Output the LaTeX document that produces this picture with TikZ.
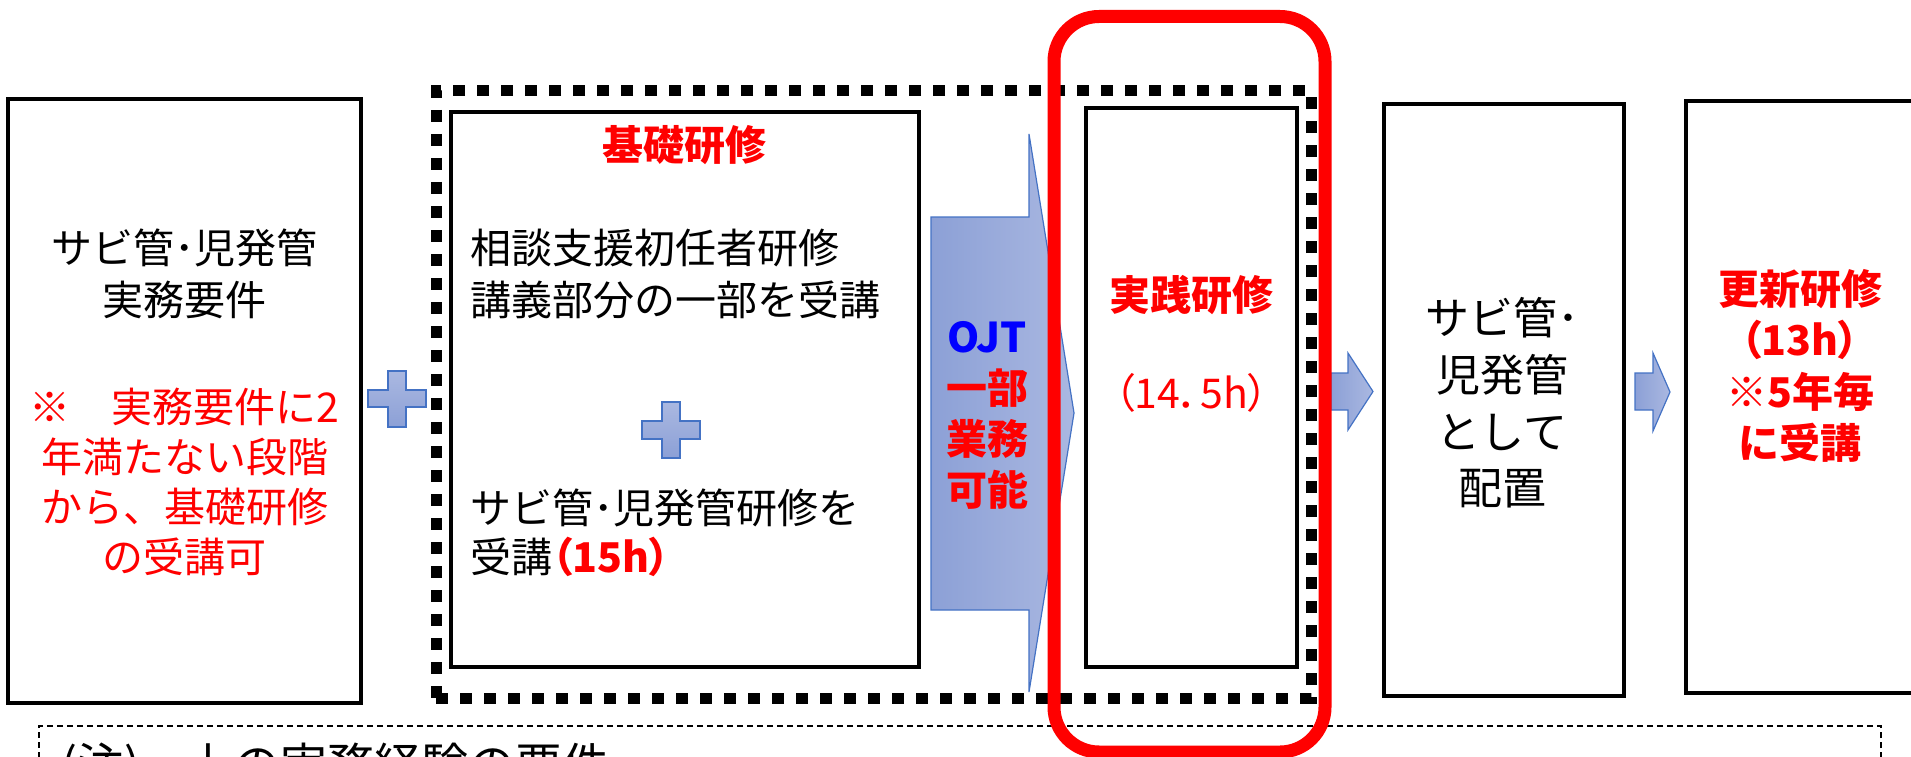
\documentclass[tikz,border=0pt]{standalone}
\usepackage{fontspec}
\setmainfont{Noto Sans CJK JP}
\newfontfamily\pfont[RawFeature=+palt]{Noto Sans CJK JP}
\definecolor{jred}{RGB}{255,0,0}
\definecolor{jblue}{RGB}{0,0,255}
\definecolor{arL}{RGB}{140,160,214}
\definecolor{arR}{RGB}{170,184,225}
\definecolor{arB}{RGB}{68,114,196}
\begin{document}
\begin{tikzpicture}[x=1pt,y=-1pt,
  box/.style={draw=black,line width=3.5pt,inner sep=0pt,fill=white},
  dotbox/.style={draw=black,line width=11pt,dash pattern=on 12pt off 12pt,inner sep=0pt},
  redframe/.style={draw=jred,line width=13pt,rounded corners=45pt,inner sep=0pt},
  notebox/.style={draw=black,line width=1.6pt,dash pattern=on 6pt off 4pt,inner sep=0pt},
  blockarrow/.style={draw=arB,line width=1.2pt,left color=arL,right color=arR},
  plussign/.style={draw=arB,line width=1.5pt,top color=arR,bottom color=arL},
  txt/.style={inner sep=0pt,align=center,font=\fontsize{41}{52}\selectfont},
  redbold/.style={text=jred,font=\fontsize{41}{51}\selectfont\bfseries}
]
\useasboundingbox (0,0) rectangle (1911,757);
\clip (0,0) rectangle (1911,757);

% boxes
\node (left) [box,minimum width=353pt,minimum height=604pt] at (184.5,401) {};
\node (kiso) [dotbox,minimum width=875pt,minimum height=607pt] at (873.5,394.5) {};
\node (kisoin) [box,minimum width=468pt,minimum height=555pt] at (685,389.5) {};
\node (jissen) [box,minimum width=211pt,minimum height=559pt] at (1191.5,387.5) {};
\node (haichi) [box,minimum width=240pt,minimum height=592pt] at (1504,400) {};
\node (koushin) [box,minimum width=264pt,minimum height=592pt] at (1818,397) {};
\node (note) [notebox,minimum width=1842pt,minimum height=80pt] at (960,766) {};

% OJT block arrow
\draw[blockarrow] (931,217) -- (1029,217) -- (1029,134) -- (1074,413) -- (1029,692)
  -- (1029,610) -- (931,610) -- cycle;
% small block arrows
\draw[blockarrow] (1331,373) -- (1348,373) -- (1348,353) -- (1373,391.5) -- (1348,430)
  -- (1348,410) -- (1331,410) -- cycle;
\draw[blockarrow] (1635,373) -- (1653,373) -- (1653,353) -- (1670,392) -- (1653,431)
  -- (1653,410) -- (1635,410) -- cycle;
% plus signs
\draw[plussign] (388,371) -- (406,371) -- (406,390) -- (426,390) -- (426,407) -- (406,407)
  -- (406,427) -- (388,427) -- (388,407) -- (368,407) -- (368,390) -- (388,390) -- cycle;
\draw[plussign] (662,402) -- (680,402) -- (680,421) -- (700,421) -- (700,439) -- (680,439)
  -- (680,458) -- (662,458) -- (662,439) -- (642,439) -- (642,421) -- (662,421) -- cycle;

% texts
\node (t1) [txt] at (184.5,274) {サビ管･児発管\\実務要件};
\node (t2) [txt,text=jred,font=\fontsize{41}{50}\selectfont] at (184.5,482)
  {※　実務要件に2\\年満たない段階\\から、基礎研修\\の受講可};
\node (t3) [txt,redbold] at (684,145) {基礎研修};
\node (t4) [txt,align=left,anchor=west] at (470,274) {相談支援初任者研修\\講義部分の一部を受講};
\node (t5) [txt,align=left,anchor=west,font=\fontsize{41}{49}\selectfont] at (470,532.5)
  {サビ管･児発管研修を\\受講{\color{jred}\bfseries\pfont （15h）}};
\node (t6) [txt,redbold] at (987,415) {{\color{jblue}OJT}\\一部\\業務\\可能};
\node (t7) [txt,redbold] at (1191.5,295) {実践研修};
\node (t8) [txt,text=jred] at (1191.5,393) {\pfont （14．5h）};
\node (t9) [txt,font=\fontsize{44}{56.7}\selectfont] at (1502,403) {サビ管･\\児発管\\として\\配置};
\node (t10) [txt,redbold,font=\fontsize{41}{51.3}\selectfont\bfseries] at (1800,366)
  {更新研修\\{\pfont （13h）}\\※5年毎\\に受講};
\node (t11) [inner sep=0pt,anchor=base west,font=\fontsize{47}{56}\selectfont] at (61,782)
  {(注)　上の実務経験の要件};

% red frame on top
\node (frame) [redframe,minimum width=271pt,minimum height=735.5pt] at (1189.5,384.25) {};
\end{tikzpicture}
\end{document}
